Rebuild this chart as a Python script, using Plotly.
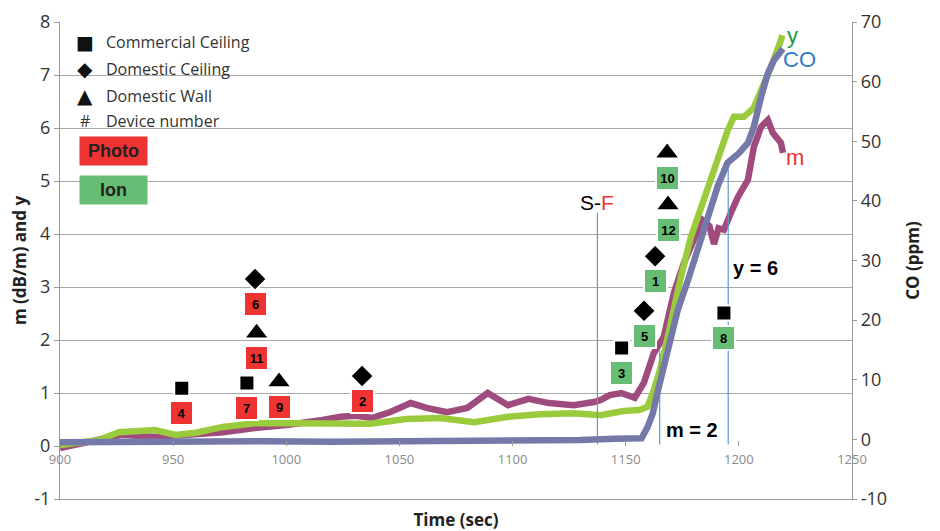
import plotly.graph_objects as go

# ---------------- data ----------------
# y curve (left axis)
t_y = [900, 917, 926, 942, 951, 960, 972, 986, 1001, 1016, 1030, 1037, 1053, 1068, 1083,
       1098, 1112, 1127, 1139, 1149, 1156, 1159.6, 1162.5, 1165.5, 1168.6, 1171.3, 1174.4,
       1178.8, 1183.2, 1187.6, 1190.7, 1195.1, 1197.8, 1202.2, 1206.6, 1210.6, 1214.2,
       1218.6, 1219.2]
y_vals = [0.02, 0.11, 0.26, 0.30, 0.21, 0.25, 0.36, 0.43, 0.43, 0.43, 0.45, 0.42, 0.51,
          0.53, 0.45, 0.55, 0.60, 0.62, 0.58, 0.66, 0.68, 0.74, 1.06, 1.49, 2.06, 2.62,
          3.19, 3.94, 4.51, 5.02, 5.40, 5.96, 6.21, 6.21, 6.38, 6.77, 7.15, 7.66, 7.75]

# m curve (left axis)
t_m = [900, 917, 927, 942, 957, 972, 986, 993, 1001, 1016, 1024, 1031, 1038, 1046, 1055,
       1062, 1071, 1080, 1089, 1098, 1107, 1116, 1127, 1136, 1139, 1143, 1148, 1154, 1158,
       1162.4, 1166.8, 1171.3, 1175.7, 1180.1, 1184, 1187, 1189, 1191, 1193.4, 1196.5,
       1199.6, 1204, 1206.6, 1209.8, 1212.8, 1215, 1218.6, 1219.5]
m_vals = [-0.04, 0.11, 0.21, 0.17, 0.21, 0.26, 0.34, 0.36, 0.40, 0.49, 0.55, 0.57, 0.53,
          0.64, 0.81, 0.72, 0.64, 0.72, 1.00, 0.77, 0.89, 0.81, 0.77, 0.83, 0.87, 0.96,
          1.00, 0.91, 1.19, 1.75, 2.06, 2.89, 3.45, 3.89, 4.26, 4.15, 3.81, 4.11, 4.08,
          4.40, 4.70, 5.02, 5.64, 6.02, 6.15, 5.91, 5.72, 5.53]

# CO curve (right axis, ppm)
t_co = [900, 930, 960, 990, 1020, 1050, 1080, 1110, 1130, 1145, 1157, 1159.7, 1162, 1164,
        1167, 1170, 1173, 1177.5, 1182, 1186, 1190.7, 1195, 1200, 1204, 1206.6, 1209.8,
        1212.8, 1215.5, 1218.6, 1219.5]
co_vals = [-0.5, -0.4, -0.5, -0.3, -0.4, -0.3, -0.4, -0.3, -0.1, 0.1, 0.2, 2.1, 4.4, 7.8,
           12.2, 17.2, 21.7, 26.7, 32.3, 36.8, 42.5, 46.4, 48.0, 49.7, 52.4, 57.4, 61.4,
           63.6, 65.3, 65.5]

# devices
dev_num = [4, 7, 9, 11, 6, 2, 3, 5, 1, 12, 10, 8]
dev_time = [953.8, 982.6, 996.8, 986.9, 986.2, 1033.5, 1148.2, 1158.1, 1163.0, 1168.7, 1168.3, 1193.4]
dev_level = [1.09, 1.19, 1.21, 2.13, 3.15, 1.32, 1.85, 2.55, 3.58, 4.55, 5.53, 2.51]
dev_type = ["Commercial Ceiling", "Commercial Ceiling", "Domestic Wall", "Domestic Wall",
            "Domestic Ceiling", "Domestic Ceiling", "Commercial Ceiling", "Domestic Ceiling",
            "Domestic Ceiling", "Domestic Wall", "Domestic Wall", "Commercial Ceiling"]
dev_sensor = ["Photo", "Photo", "Photo", "Photo", "Photo", "Photo",
              "Ion", "Ion", "Ion", "Ion", "Ion", "Ion"]

# event lines
event_times = [1137.5, 1165.0, 1195.3]
event_tops = [4.4, 1.8, 5.3]

# ticks
x_ticks = [900, 950, 1000, 1050, 1100, 1150, 1200, 1250]
left_ticks = [-1, 0, 1, 2, 3, 4, 5, 6, 7, 8]
right_ticks = [-10, 0, 10, 20, 30, 40, 50, 60, 70]

legend_types = ["Commercial Ceiling", "Domestic Ceiling", "Domestic Wall"]

# ---------------- styles ----------------
C_Y = "#9ACB3C"
C_M = "#A04B7D"
C_CO = "#7479AA"
C_EVT = "#5B9BD5"
C_PHOTO = "#EE3333"
C_ION = "#66BD73"
GRID = "#a8a8a8"
AX = "#9a9a9a"
SYM = {"Commercial Ceiling": "square", "Domestic Ceiling": "diamond", "Domestic Wall": "triangle-up"}
SYM_SIZE = {"Commercial Ceiling": 15, "Domestic Ceiling": 18, "Domestic Wall": 22}
GLYPH = {"Commercial Ceiling": "■", "Domestic Ceiling": "◆", "Domestic Wall": "▲"}
GLYPH_SIZE = {"Commercial Ceiling": 19, "Domestic Ceiling": 20, "Domestic Wall": 20}
TXT = "Open Sans"
ARIAL = "Liberation Sans"

fig = go.Figure()

fig.add_trace(go.Scatter(x=t_m, y=m_vals, mode="lines", line=dict(color=C_M, width=6.5),
                         name="m", hoverinfo="skip"))
fig.add_trace(go.Scatter(x=t_y, y=y_vals, mode="lines", line=dict(color=C_Y, width=6.5),
                         name="y", hoverinfo="skip"))
fig.add_trace(go.Scatter(x=t_co, y=co_vals, mode="lines", line=dict(color=C_CO, width=6.5),
                         name="CO", yaxis="y2", hoverinfo="skip"))

for t, top in zip(event_times, event_tops):
    fig.add_trace(go.Scatter(x=[t, t], y=[0.03, top], mode="lines",
                             line=dict(color=C_EVT, width=1.2), hoverinfo="skip"))

# dummy trace so the tick-label axis at y=0 is drawn
fig.add_trace(go.Scatter(x=[900, 1250], y=[None, None], xaxis="x2", mode="lines",
                         hoverinfo="skip"))

for ty in legend_types:
    xs = [t for t, d in zip(dev_time, dev_type) if d == ty]
    ys = [v for v, d in zip(dev_level, dev_type) if d == ty]
    fig.add_trace(go.Scatter(x=xs, y=ys, mode="markers", name=ty,
                             marker=dict(symbol=SYM[ty], size=SYM_SIZE[ty], color="black",
                                         line=dict(color="white", width=2)),
                             hoverinfo="skip"))

annotations = []
for n, t, v, s in zip(dev_num, dev_time, dev_level, dev_sensor):
    annotations.append(dict(x=t, y=v, xref="x", yref="y", yshift=-25, text=f"<b>{n}</b>",
                            showarrow=False, xanchor="center", yanchor="middle",
                            font=dict(family=ARIAL, size=13, color="black"),
                            bgcolor=C_PHOTO if s == "Photo" else C_ION, bordercolor="white",
                            borderwidth=2, borderpad=3, width=15, height=16))

# curve / event labels
annotations += [
    dict(x=1223.9, y=7.75, text="y", showarrow=False, xanchor="center", yanchor="middle",
         font=dict(family=ARIAL, size=22, color="#24964A")),
    dict(x=1227.0, y=7.3, text="CO", showarrow=False, xanchor="center", yanchor="middle",
         font=dict(family=ARIAL, size=22, color="#2E7BC6")),
    dict(x=1224.8, y=5.45, text="m", showarrow=False, xanchor="center", yanchor="middle",
         font=dict(family=ARIAL, size=22, color="#EE3333")),
    dict(x=event_times[0], y=4.6, text="S-<span style='color:#EE3333'>F</span>",
         showarrow=False, xanchor="center", yanchor="middle",
         font=dict(family=ARIAL, size=21, color="black")),
    dict(x=event_times[1], y=0.3, text="<b>m = 2</b>", showarrow=False, xanchor="left",
         yanchor="middle", xshift=4, font=dict(family=ARIAL, size=20, color="black")),
    dict(x=event_times[2], y=3.35, text="<b>y = 6</b>", showarrow=False, xanchor="left",
         yanchor="middle", xshift=3, font=dict(family=ARIAL, size=20, color="black")),
]

# custom legend (positions in screen pixels of the plot area 60..852 x 22..499)
def py2paper(py):
    return (499 - py) / 477.0

def px2paper(px):
    return (px - 60) / 792.0

rows = [42, 69, 96, 121]
for ty, r in zip(legend_types, rows):
    annotations.append(dict(xref="paper", yref="paper", x=px2paper(85), y=py2paper(r),
                            text=GLYPH[ty], showarrow=False, xanchor="center", yanchor="middle",
                            font=dict(family="DejaVu Sans", size=GLYPH_SIZE[ty], color="#111")))
    annotations.append(dict(xref="paper", yref="paper", x=px2paper(104), y=py2paper(r),
                            text=ty, showarrow=False, xanchor="left", yanchor="middle",
                            font=dict(family=TXT, size=16, color="#333")))
annotations.append(dict(xref="paper", yref="paper", x=px2paper(85), y=py2paper(rows[3]),
                        text="#", showarrow=False, xanchor="center", yanchor="middle",
                        font=dict(family=TXT, size=16, color="#333")))
annotations.append(dict(xref="paper", yref="paper", x=px2paper(104), y=py2paper(rows[3]),
                        text="Device number", showarrow=False, xanchor="left", yanchor="middle",
                        font=dict(family=TXT, size=16, color="#333")))
annotations.append(dict(xref="paper", yref="paper", x=px2paper(113.5), y=py2paper(151),
                        text="<b>Photo</b>", showarrow=False, bgcolor=C_PHOTO,
                        xanchor="center", yanchor="middle",
                        width=61, height=22, borderpad=3,
                        font=dict(family=ARIAL, size=18, color="#222")))
annotations.append(dict(xref="paper", yref="paper", x=px2paper(113.5), y=py2paper(190),
                        text="<b>Ion</b>", showarrow=False, bgcolor=C_ION,
                        xanchor="center", yanchor="middle",
                        width=61, height=22, borderpad=3,
                        font=dict(family=ARIAL, size=18, color="#222")))

shapes = [dict(type="rect", xref="paper", yref="paper", x0=px2paper(71), x1=px2paper(268),
               y0=py2paper(210), y1=py2paper(28), fillcolor="white", line=dict(width=0),
               layer="between")]

fig.update_layout(
    template="none",
    width=940, height=531,
    margin=dict(l=52, r=96, t=14, b=40, autoexpand=False),
    paper_bgcolor="white", plot_bgcolor="white",
    showlegend=False,
    annotations=annotations,
    shapes=shapes,
    xaxis=dict(range=[900, 1250], showgrid=False, showticklabels=False, ticks="",
               showline=True, linecolor=AX, linewidth=1.3, zeroline=False, automargin=False,
               title=dict(text="<b>Time (sec)</b>", standoff=14,
                          font=dict(family=TXT, size=17, color="#222"))),
    xaxis2=dict(overlaying="x", anchor="free", position=1 / 9.0, range=[900, 1250],
                tickmode="array", tickvals=x_ticks, ticktext=[str(v) for v in x_ticks],
                ticks="inside", ticklen=5, tickcolor=AX, showgrid=False, showline=False,
                zeroline=False, automargin=False, ticklabelstandoff=4,
                tickfont=dict(family=TXT, size=13, color="#8a8a8a")),
    yaxis=dict(range=[-1, 8], tickmode="array", tickvals=left_ticks,
               ticktext=[str(v) for v in left_ticks], showgrid=True, gridcolor=GRID,
               gridwidth=1.2, zeroline=True, zerolinecolor="rgba(0,0,0,0)",
               showline=True, linecolor=AX, linewidth=1.3, ticks="outside", ticklen=5,
               tickcolor=AX, automargin=False,
               tickfont=dict(family=TXT, size=18, color="#333"),
               title=dict(text="<b>m (dB/m) and y</b>", standoff=12,
                          font=dict(family=TXT, size=17, color="#222"))),
    yaxis2=dict(overlaying="y", side="right", range=[-10, 70], tickmode="array",
                tickvals=right_ticks, ticktext=[str(v) for v in right_ticks],
                showgrid=False, zeroline=False, showline=True, linecolor=AX,
                linewidth=1.3, ticks="outside", ticklen=4, tickcolor=AX, automargin=False,
                tickfont=dict(family=TXT, size=18, color="#333"),
                title=dict(text="<b>CO (ppm)</b>", standoff=20,
                           font=dict(family=TXT, size=17, color="#222"))),
)

fig.write_html("out.html")
